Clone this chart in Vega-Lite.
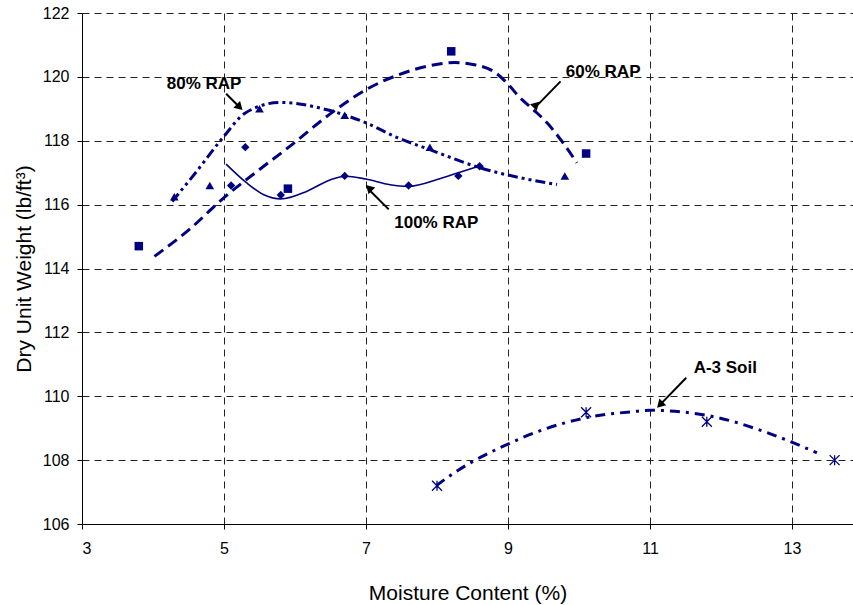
{
  "$schema": "https://vega.github.io/schema/vega-lite/v6.json",
  "width": 771,
  "height": 511,
  "autosize": {"type": "none"},
  "padding": {"left": 82, "top": 13, "right": 0, "bottom": 81},
  "background": "white",
  "config": {
    "view": {"stroke": null},
    "font": "Liberation Sans",
    "axis": {
      "domainColor": "black",
      "domainWidth": 1,
      "tickColor": "black",
      "tickSize": 5,
      "labelColor": "black",
      "labelFont": "Liberation Sans",
      "labelFontSize": 16,
      "titleColor": "black",
      "titleFont": "Liberation Sans",
      "titleFontSize": 21,
      "titleFontWeight": "normal",
      "grid": true,
      "gridColor": "#222222",
      "gridDash": [7, 5],
      "gridWidth": 1
    }
  },
  "datasets": {
    "points": [
      {"series": "100% RAP", "moisture": 5.1, "dry_unit_weight": 116.6},
      {"series": "100% RAP", "moisture": 5.3, "dry_unit_weight": 117.8},
      {"series": "100% RAP", "moisture": 5.8, "dry_unit_weight": 116.3},
      {"series": "100% RAP", "moisture": 6.7, "dry_unit_weight": 116.9},
      {"series": "100% RAP", "moisture": 7.6, "dry_unit_weight": 116.6},
      {"series": "100% RAP", "moisture": 8.3, "dry_unit_weight": 116.9},
      {"series": "100% RAP", "moisture": 8.6, "dry_unit_weight": 117.2},
      {"series": "60% RAP", "moisture": 3.8, "dry_unit_weight": 114.7},
      {"series": "60% RAP", "moisture": 5.9, "dry_unit_weight": 116.5},
      {"series": "60% RAP", "moisture": 8.2, "dry_unit_weight": 120.8},
      {"series": "60% RAP", "moisture": 10.1, "dry_unit_weight": 117.6},
      {"series": "80% RAP", "moisture": 4.3, "dry_unit_weight": 116.25},
      {"series": "80% RAP", "moisture": 4.8, "dry_unit_weight": 116.6},
      {"series": "80% RAP", "moisture": 5.5, "dry_unit_weight": 119.0},
      {"series": "80% RAP", "moisture": 6.7, "dry_unit_weight": 118.8},
      {"series": "80% RAP", "moisture": 7.9, "dry_unit_weight": 117.8},
      {"series": "80% RAP", "moisture": 9.8, "dry_unit_weight": 116.9},
      {"series": "A-3 Soil", "moisture": 8.0, "dry_unit_weight": 107.2},
      {"series": "A-3 Soil", "moisture": 10.1, "dry_unit_weight": 109.5},
      {"series": "A-3 Soil", "moisture": 11.8, "dry_unit_weight": 109.2},
      {"series": "A-3 Soil", "moisture": 13.6, "dry_unit_weight": 108.0}
    ],
    "curves": [
      {"series": "100% RAP", "moisture": 5.03, "dry_unit_weight": 117.27},
      {"series": "100% RAP", "moisture": 5.32, "dry_unit_weight": 116.68},
      {"series": "100% RAP", "moisture": 5.56, "dry_unit_weight": 116.31},
      {"series": "100% RAP", "moisture": 5.8, "dry_unit_weight": 116.18},
      {"series": "100% RAP", "moisture": 6.17, "dry_unit_weight": 116.42},
      {"series": "100% RAP", "moisture": 6.5, "dry_unit_weight": 116.78},
      {"series": "100% RAP", "moisture": 6.71, "dry_unit_weight": 116.89},
      {"series": "100% RAP", "moisture": 7.0, "dry_unit_weight": 116.8},
      {"series": "100% RAP", "moisture": 7.34, "dry_unit_weight": 116.62},
      {"series": "100% RAP", "moisture": 7.59, "dry_unit_weight": 116.57},
      {"series": "100% RAP", "moisture": 8.05, "dry_unit_weight": 116.82},
      {"series": "100% RAP", "moisture": 8.3, "dry_unit_weight": 117.0},
      {"series": "100% RAP", "moisture": 8.61, "dry_unit_weight": 117.22},
      {"series": "60% RAP", "moisture": 4.02, "dry_unit_weight": 114.38},
      {"series": "60% RAP", "moisture": 4.5, "dry_unit_weight": 115.2},
      {"series": "60% RAP", "moisture": 5.0, "dry_unit_weight": 116.22},
      {"series": "60% RAP", "moisture": 5.5, "dry_unit_weight": 117.1},
      {"series": "60% RAP", "moisture": 5.93, "dry_unit_weight": 117.83},
      {"series": "60% RAP", "moisture": 6.5, "dry_unit_weight": 118.85},
      {"series": "60% RAP", "moisture": 7.0, "dry_unit_weight": 119.6},
      {"series": "60% RAP", "moisture": 7.44, "dry_unit_weight": 120.05},
      {"series": "60% RAP", "moisture": 7.9, "dry_unit_weight": 120.35},
      {"series": "60% RAP", "moisture": 8.25, "dry_unit_weight": 120.45},
      {"series": "60% RAP", "moisture": 8.53, "dry_unit_weight": 120.38},
      {"series": "60% RAP", "moisture": 8.81, "dry_unit_weight": 120.15},
      {"series": "60% RAP", "moisture": 9.01, "dry_unit_weight": 119.75},
      {"series": "60% RAP", "moisture": 9.15, "dry_unit_weight": 119.39},
      {"series": "60% RAP", "moisture": 9.36, "dry_unit_weight": 118.97},
      {"series": "60% RAP", "moisture": 9.55, "dry_unit_weight": 118.56},
      {"series": "60% RAP", "moisture": 9.74, "dry_unit_weight": 118.04},
      {"series": "60% RAP", "moisture": 9.97, "dry_unit_weight": 117.31},
      {"series": "80% RAP", "moisture": 4.27, "dry_unit_weight": 116.1},
      {"series": "80% RAP", "moisture": 4.6, "dry_unit_weight": 117.0},
      {"series": "80% RAP", "moisture": 5.0, "dry_unit_weight": 118.14},
      {"series": "80% RAP", "moisture": 5.3, "dry_unit_weight": 118.87},
      {"series": "80% RAP", "moisture": 5.79, "dry_unit_weight": 119.2},
      {"series": "80% RAP", "moisture": 6.45, "dry_unit_weight": 118.97},
      {"series": "80% RAP", "moisture": 7.0, "dry_unit_weight": 118.56},
      {"series": "80% RAP", "moisture": 7.44, "dry_unit_weight": 118.1},
      {"series": "80% RAP", "moisture": 7.9, "dry_unit_weight": 117.72},
      {"series": "80% RAP", "moisture": 8.61, "dry_unit_weight": 117.15},
      {"series": "80% RAP", "moisture": 9.31, "dry_unit_weight": 116.78},
      {"series": "80% RAP", "moisture": 9.69, "dry_unit_weight": 116.63},
      {"series": "A-3 Soil", "moisture": 7.99, "dry_unit_weight": 107.2},
      {"series": "A-3 Soil", "moisture": 8.24, "dry_unit_weight": 107.6},
      {"series": "A-3 Soil", "moisture": 8.63, "dry_unit_weight": 108.11},
      {"series": "A-3 Soil", "moisture": 8.89, "dry_unit_weight": 108.39},
      {"series": "A-3 Soil", "moisture": 9.5, "dry_unit_weight": 108.96},
      {"series": "A-3 Soil", "moisture": 10.11, "dry_unit_weight": 109.33},
      {"series": "A-3 Soil", "moisture": 10.77, "dry_unit_weight": 109.52},
      {"series": "A-3 Soil", "moisture": 11.0, "dry_unit_weight": 109.56},
      {"series": "A-3 Soil", "moisture": 11.85, "dry_unit_weight": 109.38},
      {"series": "A-3 Soil", "moisture": 12.65, "dry_unit_weight": 108.86},
      {"series": "A-3 Soil", "moisture": 13.35, "dry_unit_weight": 108.23}
    ],
    "callouts": [
      {"label": "80% RAP", "moisture": 4.72, "dry_unit_weight": 119.79, "tail_moisture": 5.03, "tail_weight": 119.47, "head_moisture": 5.22, "head_weight": 119.05},
      {"label": "60% RAP", "moisture": 10.34, "dry_unit_weight": 120.16, "tail_moisture": 9.74, "tail_weight": 119.86, "head_moisture": 9.39, "head_weight": 119.06},
      {"label": "100% RAP", "moisture": 7.99, "dry_unit_weight": 115.41, "tail_moisture": 7.32, "tail_weight": 115.85, "head_moisture": 7.05, "head_weight": 116.45},
      {"label": "A-3 Soil", "moisture": 12.06, "dry_unit_weight": 110.89, "tail_moisture": 11.51, "tail_weight": 110.58, "head_moisture": 11.14, "head_weight": 109.73}
    ]
  },
  "encoding": {
    "x": {
      "field": "moisture",
      "type": "quantitative",
      "title": "Moisture Content (%)",
      "scale": {"domain": [3, 13.859], "nice": false, "zero": false},
      "axis": {
        "values": [3, 5, 7, 9, 11, 13],
        "labelPadding": 11,
        "titleBaseline": "alphabetic",
        "titleY": 75
      }
    },
    "y": {
      "field": "dry_unit_weight",
      "type": "quantitative",
      "title": "Dry Unit Weight (lb/ft³)",
      "scale": {"domain": [106, 122], "nice": false, "zero": false},
      "axis": {
        "values": [106, 108, 110, 112, 114, 116, 118, 120, 122],
        "labelPadding": 8,
        "titleAngle": -90,
        "titleBaseline": "alphabetic",
        "titleX": -52
      }
    }
  },
  "layer": [
    {
      "data": {"values": [{}]},
      "mark": {"type": "rule", "color": "black", "strokeWidth": 1},
      "encoding": {
        "x": null,
        "y": {"datum": 122, "type": "quantitative", "title": "Dry Unit Weight (lb/ft³)"}
      }
    },
    {
      "data": {"name": "curves"},
      "transform": [{"filter": "datum.series === '100% RAP'"}],
      "mark": {"type": "line", "color": "#000080", "strokeWidth": 1.6, "interpolate": "monotone"}
    },
    {
      "data": {"name": "curves"},
      "transform": [{"filter": "datum.series === '60% RAP'"}],
      "mark": {"type": "line", "color": "#000080", "strokeWidth": 3, "strokeDash": [11, 6], "interpolate": "monotone"}
    },
    {
      "data": {"name": "curves"},
      "transform": [{"filter": "datum.series === '80% RAP'"}],
      "mark": {"type": "line", "color": "#000080", "strokeWidth": 3, "strokeDash": [10, 4, 3, 4, 3, 4], "interpolate": "monotone"}
    },
    {
      "data": {"name": "curves"},
      "transform": [{"filter": "datum.series === 'A-3 Soil'"}],
      "mark": {"type": "line", "color": "#000080", "strokeWidth": 3, "strokeDash": [10, 6, 3, 6], "interpolate": "monotone"}
    },
    {
      "data": {"name": "points"},
      "transform": [{"filter": "datum.series !== 'A-3 Soil'"}],
      "mark": {"type": "point", "filled": true, "color": "#000080", "opacity": 1},
      "encoding": {
        "shape": {
          "field": "series",
          "type": "nominal",
          "scale": {"domain": ["100% RAP", "60% RAP", "80% RAP"], "range": ["diamond", "square", "triangle-up"]},
          "legend": null
        },
        "size": {
          "field": "series",
          "type": "nominal",
          "scale": {"domain": ["100% RAP", "60% RAP", "80% RAP"], "range": [70, 75, 75]},
          "legend": null
        }
      }
    },
    {
      "data": {"name": "points"},
      "transform": [{"filter": "datum.series === 'A-3 Soil'"}],
      "mark": {
        "type": "point",
        "filled": false,
        "color": "#000080",
        "opacity": 1,
        "strokeWidth": 1.3,
        "size": 100,
        "shape": "M-1,-1L1,1M-1,1L1,-1M0,-1L0,1"
      }
    },
    {
      "data": {"name": "callouts"},
      "mark": {"type": "rule", "color": "black", "strokeWidth": 2},
      "encoding": {
        "x": {"field": "tail_moisture", "type": "quantitative", "title": "Moisture Content (%)"},
        "y": {"field": "tail_weight", "type": "quantitative", "title": "Dry Unit Weight (lb/ft³)"},
        "x2": {"field": "head_moisture"},
        "y2": {"field": "head_weight"}
      }
    },
    {
      "data": {"name": "callouts"},
      "mark": {"type": "point", "shape": "triangle-up", "filled": true, "color": "black", "opacity": 1, "size": 90},
      "encoding": {
        "x": {"field": "head_moisture", "type": "quantitative", "title": "Moisture Content (%)"},
        "y": {"field": "head_weight", "type": "quantitative", "title": "Dry Unit Weight (lb/ft³)"},
        "angle": {
          "field": "label",
          "type": "nominal",
          "scale": {"domain": ["80% RAP", "60% RAP", "100% RAP", "A-3 Soil"], "range": [135, 224, 316, 225]},
          "legend": null
        }
      }
    },
    {
      "data": {"name": "callouts"},
      "mark": {"type": "text", "font": "Liberation Sans", "fontSize": 17, "fontWeight": "bold", "color": "black", "align": "center", "baseline": "middle"},
      "encoding": {
        "text": {"field": "label"}
      }
    }
  ]
}
